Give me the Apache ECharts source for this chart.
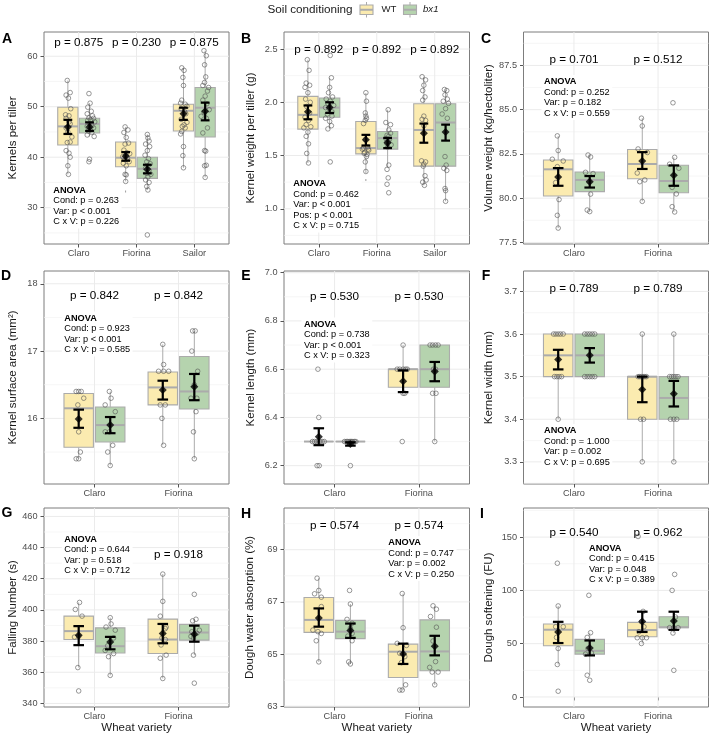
<!DOCTYPE html>
<html><head><meta charset="utf-8">
<script src="https://cdn.jsdelivr.net/npm/echarts@6/dist/echarts.min.js"></script>
<style>html,body{margin:0;padding:0;background:#fff}#c{width:710px;height:736px}</style>
</head><body><div id="c"></div>
<script>
// ---------------- DATA ----------------
const cats3 = ['Claro', 'Fiorina', 'Sailor'];
const cats2 = ['Claro', 'Fiorina'];
const condNames = ['WT', 'bx1'];
const legendTitle = 'Soil conditioning';
const xTitle = 'Wheat variety';

// Panel A: Kernels per tiller
const yTicksA = [30, 40, 50, 60];
const yMinorA = [25, 35, 45, 55];
const boxA_WT = [[36.6,42.4,46.1,49.9,55.2],[35.2,38.1,39.9,43.0,46.0],[37.9,45.2,49.2,50.5,57.7]];
const boxA_BX = [[44.1,44.8,46.6,47.7,50.7],[33.5,35.8,37.7,40.0,44.5],[36.0,44.0,49.8,53.8,61.1]];
const meanA_WT = [46.0, 40.2, 48.6];
const meanA_BX = [46.0, 37.6, 49.1];
const errA_WT = [[44.6,47.4],[39.3,41.0],[47.4,49.8]];
const errA_BX = [[45.2,46.9],[36.8,38.5],[47.3,50.8]];
const ptsA_WT = [
 [55.2,52.8,52.3,51.7,49.6,48.4,48.2,47.7,47.0,46.6,45.8,45.0,44.0,43.0,42.9,41.3,40.8,40.0,38.3,36.6],
 [46.0,45.4,44.9,43.9,42.8,42.6,41.4,40.9,40.7,40.4,40.1,39.9,39.5,39.1,38.8,38.3,36.6,36.5,35.2],
 [57.7,57.2,55.8,54.2,51.3,50.7,50.5,50.1,49.6,49.0,48.6,47.5,46.9,46.4,46.1,45.8,45.1,44.6,42.1,40.3,37.9]];
const jitA_WT = [
 [-0.01,0.04,-0.03,0.01,0.05,-0.04,0.02,-0.03,0.02,0.04,-0.03,0.0,0.07,0.04,-0.01,-0.03,0.02,0.04,0.0,0.01],
 [-0.01,0.04,-0.03,0.01,0.05,-0.01,-0.03,0.02,0.07,0.0,-0.05,0.03,-0.01,0.06,-0.04,0.01,-0.01,0.01,0.0],
 [-0.03,0.01,-0.01,0.0,-0.03,-0.05,0.03,0.06,-0.04,0.02,0.04,-0.04,0.06,0.01,-0.02,0.03,-0.03,-0.05,0.0,-0.01,0.0]];
const ptsA_BX = [
 [52.6,50.7,49.9,49.1,48.6,48.2,47.8,47.7,47.4,47.3,47.0,46.6,46.2,46.1,45.8,45.4,45.2,44.9,44.4,44.1,39.6,39.1],
 [44.5,43.8,43.2,42.6,42.1,41.3,40.4,39.7,39.1,38.7,38.3,37.8,37.4,36.8,36.6,36.1,35.5,35.0,34.2,33.5,24.6],
 [61.1,60.1,58.3,55.9,54.8,54.2,53.8,53.1,52.1,51.3,50.6,49.4,48.9,48.1,47.7,45.8,44.8,41.3,41.2,38.4,38.3,36.0]];
const jitA_BX = [
 [-0.01,0.01,-0.03,0.03,-0.04,0.05,-0.01,0.07,0.02,-0.03,0.09,0.0,0.04,-0.04,0.07,0.01,-0.02,0.04,-0.04,0.08,0.0,-0.01],
 [0.0,0.01,0.03,-0.03,0.04,0.0,-0.04,0.02,-0.01,0.05,0.01,-0.03,0.03,-0.01,0.06,0.01,-0.03,0.03,-0.01,0.01,0.0],
 [-0.02,0.02,-0.01,0.01,-0.01,-0.04,0.06,0.04,0.0,-0.04,0.03,0.07,-0.02,-0.07,0.02,0.04,-0.04,-0.01,0.01,0.02,-0.01,0.0]];
const outA_WT = [[], [33.2], []];
const outA_BX = [[], [], []];
const pLabA = ['p = 0.875', 'p = 0.230', 'p = 0.875'];
const anovaA = ['Cond: p = 0.263', 'Var: p < 0.001', 'C x V: p = 0.226'];

// Panel B: Kernel weight per tiller
const yTicksB = [1.0, 1.5, 2.0, 2.5];
const yMinorB = [0.75, 1.25, 1.75, 2.25];
const boxB_WT = [[1.43,1.748,1.882,2.055,2.40],[1.335,1.515,1.57,1.82,2.087],[1.22,1.40,1.74,1.986,2.24]];
const boxB_BX = [[1.75,1.86,1.95,2.04,2.23],[1.39,1.56,1.663,1.726,1.93],[1.07,1.40,1.81,1.986,2.12]];
const meanB_WT = [1.91, 1.647, 1.71];
const meanB_BX = [1.95, 1.62, 1.72];
const errB_WT = [[1.84,1.97],[1.594,1.694],[1.62,1.80]];
const errB_BX = [[1.90,2.00],[1.57,1.665],[1.64,1.79]];
const ptsB_WT = [
 [2.40,2.30,2.18,2.14,2.16,2.09,2.03,2.00,1.96,1.90,1.86,1.83,1.79,1.77,1.76,1.72,1.68,1.61,1.52,1.43],
 [2.09,2.01,1.90,1.87,1.85,1.83,1.80,1.65,1.58,1.57,1.56,1.56,1.55,1.53,1.52,1.51,1.49,1.44,1.35],
 [2.24,2.21,2.16,2.11,2.05,2.02,1.87,1.84,1.83,1.78,1.45,1.44,1.42,1.40,1.31,1.27,1.25,1.22]];
const jitB_WT = [
 [-0.01,0.02,-0.03,-0.05,0.03,0.0,-0.04,0.04,-0.02,0.03,-0.05,0.01,-0.03,0.05,-0.07,0.0,-0.03,0.01,-0.02,0.01],
 [0.0,0.01,-0.01,0.0,0.01,-0.01,-0.04,-0.01,0.03,-0.04,0.04,-0.06,0.05,-0.02,-0.03,0.02,0.01,-0.01,0.0],
 [-0.03,0.03,0.0,-0.02,0.02,-0.02,0.0,-0.03,0.03,0.0,-0.04,0.03,0.0,-0.01,0.02,0.04,-0.02,0.01]];
const ptsB_BX = [
 [2.44,2.23,2.14,2.09,2.05,2.03,2.01,1.99,1.97,1.95,1.94,1.91,1.89,1.87,1.85,1.82,1.78,1.75,1.44],
 [1.93,1.81,1.79,1.74,1.71,1.69,1.68,1.66,1.65,1.65,1.63,1.62,1.60,1.58,1.41,1.37,1.29,1.23,1.15],
 [2.12,2.11,2.07,2.03,2.01,1.99,1.94,1.89,1.85,1.49,1.41,1.38,1.36,1.19,1.17,1.07]];
const jitB_BX = [
 [0.01,0.03,0.0,-0.02,0.05,-0.06,0.01,-0.03,0.07,-0.07,-0.01,0.04,-0.04,0.04,-0.07,0.0,0.03,-0.03,0.01],
 [0.01,-0.03,0.05,0.02,0.05,-0.01,0.02,-0.03,0.03,0.0,0.01,-0.02,0.06,0.0,0.02,-0.01,0.01,-0.01,0.02],
 [-0.02,0.02,-0.01,0.03,-0.04,0.05,0.0,-0.06,0.03,-0.01,0.01,-0.03,0.02,-0.01,0.0,0.0]];
const outB_WT = [[], [1.27], []];
const outB_BX = [[], [], []];
const pLabB = ['p = 0.892', 'p = 0.892', 'p = 0.892'];
const anovaB = ['Cond: p = 0.462', 'Var: p < 0.001', 'Pos: p < 0.001', 'C x V: p = 0.715'];

// Panel C: Volume weight
const yTicksC = [77.5, 80.0, 82.5, 85.0, 87.5];
const yMinorC = [78.75, 81.25, 83.75, 86.25, 88.75];
const boxC_WT = [[78.31,80.12,81.63,82.16,83.52],[79.82,81.1,81.93,82.75,84.52]];
const boxC_BX = [[79.24,80.37,81.03,81.48,82.44],[79.22,80.31,80.97,81.86,82.31]];
const meanC_WT = [81.2, 82.1];
const meanC_BX = [80.93, 81.3];
const errC_WT = [[80.7,81.7],[81.65,82.6]];
const errC_BX = [[80.6,81.25],[80.7,81.85]];
const ptsC_WT = [[83.52,82.69,82.2,82.1,81.78,80.88,79.92,79.03,78.31],[84.52,84.08,82.78,82.58,81.42,81.03,80.93,79.82]];
const jitC_WT = [[-0.01,0.0,-0.07,0.06,-0.01,-0.03,0.01,-0.01,0.0],[-0.01,0.0,-0.05,0.06,-0.06,0.03,-0.03,0.0]];
const ptsC_BX = [[82.44,82.33,81.46,81.39,80.93,80.23,79.33,79.24],[85.39,82.31,81.92,81.69,80.61,80.24,79.52,79.22]];
const jitC_BX = [[-0.02,0.01,-0.05,0.04,-0.01,0.01,-0.03,0.0],[-0.01,0.01,-0.05,0.06,-0.02,0.03,-0.02,0.01]];
const pLabC = ['p = 0.701', 'p = 0.512'];
const anovaC = ['Cond: p = 0.252', 'Var: p = 0.182', 'C x V: p = 0.559'];

// Panel D: Kernel surface area
const yTicksD = [16, 17, 18];
const yMinorD = [15.5, 16.5, 17.5];
const boxD_WT = [[15.4,15.57,16.15,16.37,16.4],[15.6,16.2,16.46,16.69,17.1]];
const boxD_BX = [[15.3,15.65,15.9,16.17,16.4],[15.4,16.14,16.4,16.92,17.3]];
const meanD_WT = [15.99, 16.42];
const meanD_BX = [15.9, 16.47];
const errD_WT = [[15.86,16.13],[16.28,16.56]];
const errD_BX = [[15.78,16.02],[16.27,16.66]];
const ptsD_WT = [[16.4,16.4,16.4,16.3,16.2,15.8,15.5,15.4,15.4],[17.1,16.8,16.7,16.7,16.7,16.2,16.2,16.0,15.6]];
const jitD_WT = [[-0.03,0.0,0.03,0.06,-0.01,0.0,0.02,-0.03,0.0],[0.0,0.01,-0.05,0.01,0.07,-0.03,0.03,-0.01,0.01]];
const ptsD_BX = [[16.4,16.3,16.2,16.1,15.8,15.8,15.6,15.5,15.3],[17.3,17.3,17.0,16.7,16.5,16.3,16.3,16.1,15.8,15.4]];
const jitD_BX = [[-0.01,0.01,-0.06,0.06,-0.06,-0.01,0.03,-0.03,0.0],[-0.02,0.01,-0.03,0.04,0.0,-0.04,0.03,0.02,-0.01,0.0]];
const pLabD = ['p = 0.842', 'p = 0.842'];
const anovaD = ['Cond: p = 0.923', 'Var: p < 0.001', 'C x V: p = 0.585'];

// Panel E: Kernel length
const yTicksE = [6.2, 6.4, 6.6, 6.8, 7.0];
const yMinorE = [6.3, 6.5, 6.7, 6.9];
const boxE_WT = [[6.3,6.3,6.3,6.3,6.3],[6.5,6.525,6.6,6.6,6.7]];
const boxE_BX = [[6.3,6.3,6.3,6.3,6.3],[6.3,6.525,6.6,6.7,6.7]];
const meanE_WT = [6.32, 6.55];
const meanE_BX = [6.29, 6.59];
const errE_WT = [[6.285,6.355],[6.505,6.595]];
const errE_BX = [[6.283,6.297],[6.55,6.63]];
const ptsE_WT = [[6.6,6.4,6.3,6.3,6.3,6.3,6.3,6.3,6.2,6.2],[6.7,6.6,6.6,6.6,6.6,6.6,6.5,6.5,6.3]];
const jitE_WT = [[-0.01,0.0,-0.075,-0.05,-0.02,0.01,0.04,0.065,-0.02,0.005],[0.0,-0.07,-0.04,0.0,0.03,0.05,0.0,0.02,-0.01]];
const ptsE_BX = [[6.3,6.3,6.3,6.3,6.3,6.3,6.3,6.3,6.3,6.2],[6.7,6.7,6.7,6.7,6.6,6.6,6.5,6.5,6.3]];
const jitE_BX = [[-0.07,-0.05,-0.035,-0.015,0.0,0.015,0.03,0.05,0.065,0.0],[-0.055,-0.025,0.01,0.04,-0.015,0.01,-0.025,0.015,0.0]];
const pLabE = ['p = 0.530', 'p = 0.530'];
const anovaE = ['Cond: p = 0.738', 'Var: p < 0.001', 'C x V: p = 0.323'];

// Panel F: Kernel width
const yTicksF = [3.3, 3.4, 3.5, 3.6, 3.7];
const yMinorF = [3.25, 3.35, 3.45, 3.55, 3.65];
const boxF_WT = [[3.4,3.5,3.55,3.6,3.6],[3.3,3.4,3.5,3.5,3.6]];
const boxF_BX = [[3.5,3.5,3.55,3.6,3.6],[3.3,3.4,3.45,3.5,3.6]];
const meanF_WT = [3.54, 3.47];
const meanF_BX = [3.55, 3.46];
const errF_WT = [[3.517,3.563],[3.44,3.50]];
const errF_BX = [[3.533,3.567],[3.43,3.49]];
const ptsF_WT = [[3.6,3.6,3.6,3.6,3.6,3.5,3.5,3.5,3.5,3.4],[3.6,3.5,3.5,3.5,3.5,3.5,3.5,3.4,3.4,3.3]];
const jitF_WT = [[-0.055,-0.028,0.0,0.028,0.06,-0.044,-0.016,0.012,0.04,0.0],[0.0,-0.05,-0.03,-0.01,0.01,0.03,0.05,-0.02,0.015,0.0]];
const ptsF_BX = [[3.6,3.6,3.6,3.6,3.6,3.5,3.5,3.5,3.5,3.5],[3.6,3.5,3.5,3.5,3.5,3.5,3.4,3.4,3.4,3.3]];
const jitF_BX = [[-0.06,-0.03,0.0,0.03,0.06,-0.06,-0.03,0.0,0.03,0.06],[0.0,-0.05,-0.025,0.0,0.025,0.05,-0.04,0.0,0.035,0.0]];
const pLabF = ['p = 0.789', 'p = 0.789'];
const anovaF = ['Cond: p = 1.000', 'Var: p = 0.002', 'C x V: p = 0.695'];

// Panel G: Falling Number
const yTicksG = [340, 360, 380, 400, 420, 440, 460];
const yMinorG = [350, 370, 390, 410, 430, 450];
const boxG_WT = [[363,381,386.4,396,404.8],[356,372,381,394.1,423]];
const boxG_BX = [[358,372.4,376.7,388.5,395],[371,380.6,385.5,390.7,394]];
const meanG_WT = [383.8, 384.9];
const meanG_BX = [379.4, 384.4];
const errG_WT = [[377.4,389.6],[378.6,391]];
const errG_BX = [[374.7,382.7],[379.6,389.9]];
const ptsG_WT = [[404.8,400.3,396.0,383.0,382.6,363.0,348.0],[423,405.5,396,389,388,382,381,377.5,371,369,356]];
const jitG_WT = [[0.01,-0.04,0.04,0.0,-0.05,-0.01,0.0],[0.0,0.0,-0.03,0.04,0.03,-0.01,0.03,-0.02,0.04,-0.03,0.0]];
const ptsG_BX = [[395,391,389,387,382,377,374,372,370,358],[410,394,393,387,386,385,383,382,371,353]];
const jitG_BX = [[0.0,0.01,-0.05,0.06,0.04,-0.03,-0.06,0.04,-0.02,0.0],[0.0,0.02,-0.02,0.06,-0.03,0.03,-0.04,-0.01,-0.01,0.0]];
const pLabG = [null, 'p = 0.918'];
const anovaG = ['Cond: p = 0.644', 'Var: p = 0.518', 'C x V: p = 0.712'];

// Panel H: Dough water absorption
const yTicksH = [63, 65, 67, 69];
const yMinorH = [64, 66, 68, 70];
const boxH_WT = [[64.7,65.83,66.31,67.17,67.91],[63.62,64.1,65.09,65.38,67.32]];
const boxH_BX = [[64.62,65.59,65.86,66.29,66.92],[63.82,64.36,65.1,66.31,66.85]];
const meanH_WT = [66.38, 65.0];
const meanH_BX = [65.9, 65.3];
const errH_WT = [[66.05,66.75],[64.62,65.4]];
const errH_BX = [[65.62,66.17],[64.95,65.7]];
const ptsH_WT = [[67.91,67.44,67.31,67.18,66.82,65.92,65.86,65.79,65.51,64.7],[67.32,66.01,65.41,65.33,65.03,64.9,64.67,63.82,63.62,63.62]];
const jitH_WT = [[-0.02,0.0,-0.05,0.03,0.03,-0.07,-0.01,0.03,-0.03,0.0],[-0.01,0.0,-0.07,0.04,-0.04,0.02,-0.02,0.03,-0.04,-0.01]];
const ptsH_BX = [[67.44,66.92,66.33,66.18,65.99,65.79,65.69,65.51,64.7,64.62],[66.85,66.72,66.44,66.03,65.5,64.71,64.49,64.31,64.31,63.82]];
const jitH_BX = [[-0.01,0.0,-0.04,0.02,0.0,0.02,-0.03,0.02,-0.02,0.0],[-0.02,0.02,-0.05,0.02,-0.02,0.01,-0.06,-0.03,0.04,0.0]];
const pLabH = ['p = 0.574', 'p = 0.574'];
const anovaH = ['Cond: p = 0.747', 'Var: p = 0.002', 'C x V: p = 0.250'];

// Panel I: Dough softening
const yTicksI = [0, 50, 100, 150];
const yMinorI = [25, 75, 125, 175];
const boxI_WT = [[30.5,48,63.1,68.4,85.4],[50.2,56.5,62.8,70,80.3]];
const boxI_BX = [[20.4,40.2,43.3,54,60.3],[60,65,65.5,75.3,75.3]];
const meanI_WT = [61.0, 70.7];
const meanI_BX = [46.0, 71.3];
const errI_WT = [[50.6,70.5],[61,80]];
const errI_BX = [[39,53],[63,80]];
const ptsI_WT = [[125.5,85.4,65.9,65.9,55.9,45.5,30.5,5.4],[150.6,80.3,70.6,65.9,61.2,55.6,55.6,55.6,50.2]];
const jitI_WT = [[-0.01,0.0,-0.03,0.06,-0.02,0.0,-0.01,0.0],[-0.05,0.01,-0.01,0.02,-0.04,-0.06,0.0,0.05,-0.01]];
const ptsI_BX = [[95.4,60.3,55.9,45.5,41.4,40.2,20.4,15.7],[115,100,75,65,65,65,60,25]];
const jitI_BX = [[-0.01,0.01,-0.03,-0.02,0.02,-0.05,-0.03,0.0],[0.01,-0.02,0.02,-0.05,0.0,0.05,-0.01,0.0]];
const pLabI = ['p = 0.540', 'p = 0.962'];
const anovaI = ['Cond: p = 0.415', 'Var: p = 0.048', 'C x V: p = 0.389'];

const yTitles = ['Kernels per tiller', 'Kernel weight per tiller (g)', 'Volume weight (kg/hectoliter)',
  'Kernel surface area (mm\u00B2)', 'Kernel length (mm)', 'Kernel width (mm)',
  'Falling Number (s)', 'Dough water absorption (%)', 'Dough softening (FU)'];
const panelLetters = ['A','B','C','D','E','F','G','H','I'];

// ---------------- LAYOUT / STYLE ----------------
const FONT = '"Liberation Sans", Arial, Helvetica, sans-serif';
const COL = ['#FBEBB0', '#B5D3AE'];
const BOXLINE = '#ababab';
const GRID_MAJ = '#ebebeb', GRID_MIN = '#f2f2f2';
const DODGE = [-0.1875, 0.1875];

const layout = [
  {left:44,    top:32,  width:185,   height:212, yr:[22.8,64.8],  dec:0, pY:10.7, an:[50.8,183.5], titleX:13.3},
  {left:284,   top:32,  width:185.5, height:212, yr:[0.669,2.66], dec:1, pY:17.3, an:[290.8,177],  titleX:251.3},
  {left:523.5, top:32,  width:185,   height:212, yr:[77.41,89.39],dec:1, pY:27.3, an:[541.5,75],   titleX:488.5},
  {left:44,    top:271, width:185,   height:213, yr:[15.025,18.19],dec:0,pY:25,   an:[61.8,311.5], titleX:13.3},
  {left:284,   top:271, width:185.5, height:213, yr:[6.124,7.007],dec:1, pY:25.7, an:[301.5,317.5],titleX:251.3},
  {left:523.5, top:271, width:185,   height:213, yr:[3.248,3.748],dec:1, pY:17.3, an:[541.5,424],  titleX:488.5},
  {left:44,    top:508, width:185,   height:199, yr:[337.7,465.4],dec:0, pY:47,   an:[61.8,532.5], titleX:13.3},
  {left:284,   top:508, width:185.5, height:199, yr:[62.97,70.6], dec:0, pY:17.7, an:[385.8,536],  titleX:250.3},
  {left:523.5, top:508, width:185,   height:199, yr:[-9.4,177.3], dec:0, pY:24.7, an:[586.5,541.5],titleX:488.5}
];
const letterPos = [[7,39],[246,39],[486,39],[6,276],[246,276],[486,276],[7,513],[246,514],[482,514]];

const panels = [
  {cats:cats3, yt:yTicksA, ym:yMinorA, box:[boxA_WT,boxA_BX], mean:[meanA_WT,meanA_BX], err:[errA_WT,errA_BX], pts:[ptsA_WT,ptsA_BX], jit:[jitA_WT,jitA_BX], out:[outA_WT,outA_BX], pl:pLabA, an:anovaA},
  {cats:cats3, yt:yTicksB, ym:yMinorB, box:[boxB_WT,boxB_BX], mean:[meanB_WT,meanB_BX], err:[errB_WT,errB_BX], pts:[ptsB_WT,ptsB_BX], jit:[jitB_WT,jitB_BX], out:[outB_WT,outB_BX], pl:pLabB, an:anovaB},
  {cats:cats2, yt:yTicksC, ym:yMinorC, box:[boxC_WT,boxC_BX], mean:[meanC_WT,meanC_BX], err:[errC_WT,errC_BX], pts:[ptsC_WT,ptsC_BX], jit:[jitC_WT,jitC_BX], out:null, pl:pLabC, an:anovaC},
  {cats:cats2, yt:yTicksD, ym:yMinorD, box:[boxD_WT,boxD_BX], mean:[meanD_WT,meanD_BX], err:[errD_WT,errD_BX], pts:[ptsD_WT,ptsD_BX], jit:[jitD_WT,jitD_BX], out:null, pl:pLabD, an:anovaD},
  {cats:cats2, yt:yTicksE, ym:yMinorE, box:[boxE_WT,boxE_BX], mean:[meanE_WT,meanE_BX], err:[errE_WT,errE_BX], pts:[ptsE_WT,ptsE_BX], jit:[jitE_WT,jitE_BX], out:null, pl:pLabE, an:anovaE},
  {cats:cats2, yt:yTicksF, ym:yMinorF, box:[boxF_WT,boxF_BX], mean:[meanF_WT,meanF_BX], err:[errF_WT,errF_BX], pts:[ptsF_WT,ptsF_BX], jit:[jitF_WT,jitF_BX], out:null, pl:pLabF, an:anovaF},
  {cats:cats2, yt:yTicksG, ym:yMinorG, box:[boxG_WT,boxG_BX], mean:[meanG_WT,meanG_BX], err:[errG_WT,errG_BX], pts:[ptsG_WT,ptsG_BX], jit:[jitG_WT,jitG_BX], out:null, pl:pLabG, an:anovaG},
  {cats:cats2, yt:yTicksH, ym:yMinorH, box:[boxH_WT,boxH_BX], mean:[meanH_WT,meanH_BX], err:[errH_WT,errH_BX], pts:[ptsH_WT,ptsH_BX], jit:[jitH_WT,jitH_BX], out:null, pl:pLabH, an:anovaH},
  {cats:cats2, yt:yTicksI, ym:yMinorI, box:[boxI_WT,boxI_BX], mean:[meanI_WT,meanI_BX], err:[errI_WT,errI_BX], pts:[ptsI_WT,ptsI_BX], jit:[jitI_WT,jitI_BX], out:null, pl:pLabI, an:anovaI}
];

// ---------------- BUILD ----------------
const grids = [], xAxes = [], yAxes = [], series = [], graphics = [];

function boxRenderer(fill) {
  return function (params, api) {
    const x = api.value(0);
    const lo = api.value(1), q1 = api.value(2), md = api.value(3), q3 = api.value(4), hi = api.value(5);
    const hw = 0.175;
    const a = api.coord([x - hw, q3]), b = api.coord([x + hw, q1]);
    const c = api.coord([x, md]);
    const yLo = api.coord([x, lo])[1], yHi = api.coord([x, hi])[1];
    return {type: 'group', children: [
      {type: 'line', shape: {x1: c[0], y1: yHi, x2: c[0], y2: a[1]}, style: {stroke: BOXLINE, lineWidth: 1}},
      {type: 'line', shape: {x1: c[0], y1: b[1], x2: c[0], y2: yLo}, style: {stroke: BOXLINE, lineWidth: 1}},
      {type: 'rect', shape: {x: a[0], y: a[1], width: b[0] - a[0], height: b[1] - a[1]}, style: {fill: fill, stroke: BOXLINE, lineWidth: 1.1}},
      {type: 'line', shape: {x1: a[0], y1: c[1], x2: b[0], y2: c[1]}, style: {stroke: BOXLINE, lineWidth: 2}}
    ]};
  };
}
function errRenderer(capPx) {
  return function (params, api) {
    const x = api.value(0);
    const p1 = api.coord([x, api.value(1)]), p2 = api.coord([x, api.value(2)]);
    const st = {stroke: '#000', lineWidth: 2.2};
    return {type: 'group', children: [
      {type: 'line', shape: {x1: p1[0], y1: p1[1], x2: p2[0], y2: p2[1]}, style: st},
      {type: 'line', shape: {x1: p1[0] - capPx, y1: p1[1], x2: p1[0] + capPx, y2: p1[1]}, style: st},
      {type: 'line', shape: {x1: p2[0] - capPx, y1: p2[1], x2: p2[0] + capPx, y2: p2[1]}, style: st}
    ]};
  };
}

panels.forEach(function (p, gi) {
  const L = layout[gi];
  const n = p.cats.length;
  const catPos = p.cats.map((c, i) => i + 1);
  grids.push({left: L.left, top: L.top, width: L.width, height: L.height, show: true,
    borderColor: '#7d7d7d', borderWidth: 1, backgroundColor: '#fff'});
  xAxes.push({gridIndex: gi, type: 'value', min: 0.4, max: n + 0.6,
    axisLine: {show: false}, splitLine: {show: false},
    axisTick: {show: true, customValues: catPos, length: 3.5, lineStyle: {color: '#555', width: 1}},
    axisLabel: {customValues: catPos, formatter: v => p.cats[Math.round(v) - 1] || '', margin: 4.5,
      fontSize: 9.2, color: '#4d4d4d', fontFamily: FONT}});
  yAxes.push({gridIndex: gi, type: 'value', min: L.yr[0], max: L.yr[1],
    axisLine: {show: false}, splitLine: {show: false},
    axisTick: {show: true, customValues: p.yt, length: 3.5, lineStyle: {color: '#555', width: 1}},
    axisLabel: {customValues: p.yt, formatter: v => Number(v).toFixed(L.dec), margin: 6.5,
      fontSize: 9.2, color: '#4d4d4d', fontFamily: FONT}});
  const base = {xAxisIndex: gi, yAxisIndex: gi, silent: true, animation: false};

  // grid lines (drawn through the axes' scales)
  const gl = [];
  p.yt.forEach(v => gl.push([1, v, 1]));
  p.ym.forEach(v => gl.push([1, v, 0]));
  catPos.forEach(v => gl.push([v, L.yr[0], 2]));
  series.push(Object.assign({}, base, {type: 'custom', z: 1, data: gl, encode: {x: 0, y: 1},
    renderItem: function (params, api) {
      const cs = params.coordSys, t = api.value(2);
      if (t === 2) {
        const px = api.coord([api.value(0), L.yr[0]])[0];
        return {type: 'line', shape: {x1: px, y1: cs.y, x2: px, y2: cs.y + cs.height}, style: {stroke: GRID_MAJ, lineWidth: 1}};
      }
      const py = api.coord([1, api.value(1)])[1];
      return {type: 'line', shape: {x1: cs.x, y1: py, x2: cs.x + cs.width, y2: py},
        style: {stroke: t === 1 ? GRID_MAJ : GRID_MIN, lineWidth: t === 1 ? 1 : 0.7}};
    }}));

  for (let k = 0; k < 2; k++) {
    // boxes
    const bd = p.box[k].map((b, i) => [i + 1 + DODGE[k]].concat(b));
    series.push(Object.assign({}, base, {type: 'custom', z: 2, data: bd, encode: {x: 0, y: [1, 2, 3, 4, 5]},
      renderItem: boxRenderer(COL[k])}));
    // tiny outlier marks
    if (p.out) {
      const od = [];
      p.out[k].forEach((arr, i) => arr.forEach(v => od.push([i + 1 + DODGE[k], v])));
      if (od.length) series.push(Object.assign({}, base, {type: 'scatter', z: 3, data: od, symbol: 'rect',
        symbolSize: [0.8, 2.2], itemStyle: {color: '#666'}}));
    }
    // jittered points
    const pd = [];
    p.pts[k].forEach((arr, i) => arr.forEach((v, j) => pd.push([i + 1 + DODGE[k] + (p.jit[k][i][j] || 0), v])));
    series.push(Object.assign({}, base, {type: 'scatter', z: 4, data: pd, symbol: 'circle', symbolSize: 4.6,
      itemStyle: {color: 'rgba(0,0,0,0)', borderColor: '#555', borderWidth: 0.75}}));
    // error bars
    const ed = p.err[k].map((e, i) => [i + 1 + DODGE[k], e[0], e[1]]);
    series.push(Object.assign({}, base, {type: 'custom', z: 5, data: ed, encode: {x: 0, y: [1, 2]},
      renderItem: errRenderer(n === 3 ? 4.4 : 5.3)}));
    // means
    const md = p.mean[k].map((m, i) => [i + 1 + DODGE[k], m]);
    series.push(Object.assign({}, base, {type: 'scatter', z: 6, data: md, symbol: 'diamond', symbolSize: 8,
      itemStyle: {color: '#000'}}));
  }

  // p-value labels
  p.pl.forEach(function (t, i) {
    if (!t) return;
    const px = L.left + (i + 1 - 0.4) / (n + 0.2) * L.width;
    graphics.push({type: 'text', x: px, y: L.top + L.pY, z: 50,
      style: {text: t, fontSize: 11.7, fontFamily: FONT, fill: '#000', align: 'center', verticalAlign: 'middle',
        textAlign: 'center', textVerticalAlign: 'middle'}});
  });
  // ANOVA block
  graphics.push({type: 'text', x: L.an[0], y: L.an[1], z: 60,
    style: {text: '{b|ANOVA}\n' + p.an.join('\n'), fontSize: 9.2, fontFamily: FONT, fill: '#000',
      lineHeight: 10.5, align: 'left', verticalAlign: 'top', textAlign: 'left', textVerticalAlign: 'top',
      backgroundColor: '#fff', padding: [1.5, 2.5, 1.5, 2.5],
      rich: {b: {fontWeight: 'bold', fontSize: 9.2, fontFamily: FONT, lineHeight: 10.5}}}});
  // y title
  graphics.push({type: 'text', x: L.titleX, y: L.top + L.height / 2, rotation: Math.PI / 2, z: 50,
    style: {text: yTitles[gi], fontSize: 11.5, fontFamily: FONT, fill: '#1a1a1a', align: 'center', verticalAlign: 'middle',
      textAlign: 'center', textVerticalAlign: 'middle'}});
  // panel letter
  graphics.push({type: 'text', x: letterPos[gi][0], y: letterPos[gi][1], z: 50,
    style: {text: panelLetters[gi], fontSize: 14, fontWeight: 'bold', fontFamily: FONT, fill: '#000',
      align: 'center', verticalAlign: 'middle', textAlign: 'center', textVerticalAlign: 'middle'}});
  // x title for bottom row
  if (gi >= 6) {
    graphics.push({type: 'text', x: L.left + L.width / 2, y: 728.3, z: 50,
      style: {text: xTitle, fontSize: 11.5, fontFamily: FONT, fill: '#1a1a1a', align: 'center', verticalAlign: 'middle',
        textAlign: 'center', textVerticalAlign: 'middle'}});
  }
});

// legend
graphics.push({type: 'text', x: 267.5, y: 9.7, z: 50,
  style: {text: legendTitle, fontSize: 11.7, fontFamily: FONT, fill: '#1a1a1a', align: 'left', verticalAlign: 'middle',
    textAlign: 'left', textVerticalAlign: 'middle'}});
[[360, 381.5], [403.5, 423]].forEach(function (pos, k) {
  const x0 = pos[0], w = 13, cx = x0 + w / 2;
  graphics.push({type: 'line', z: 50, shape: {x1: cx, y1: 2, x2: cx, y2: 17.5}, style: {stroke: BOXLINE, lineWidth: 1}});
  graphics.push({type: 'rect', z: 51, shape: {x: x0, y: 5, width: w, height: 9.5}, style: {fill: COL[k], stroke: BOXLINE, lineWidth: 1.1}});
  graphics.push({type: 'line', z: 52, shape: {x1: x0, y1: 9.75, x2: x0 + w, y2: 9.75}, style: {stroke: BOXLINE, lineWidth: 2}});
  graphics.push({type: 'text', x: pos[1], y: 9.7, z: 50,
    style: {text: condNames[k], fontSize: 9.6, fontStyle: k === 1 ? 'italic' : 'normal', fontFamily: FONT, fill: '#1a1a1a',
      align: 'left', verticalAlign: 'middle', textAlign: 'left', textVerticalAlign: 'middle'}});
});

const chart = echarts.init(document.getElementById('c'));
chart.setOption({
  animation: false,
  backgroundColor: '#fff',
  grid: grids, xAxis: xAxes, yAxis: yAxes, series: series,
  graphic: {elements: graphics}
});
</script></body></html>
